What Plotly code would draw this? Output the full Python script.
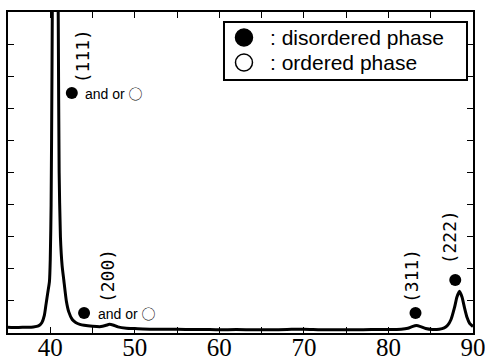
import plotly.graph_objects as go

# XRD pattern (2theta in degrees, intensity in arbitrary units 0-10)
two_theta = [35.0, 36.0, 37.0, 38.0, 38.6, 39.0, 39.3, 39.5, 39.7, 39.9, 40.0, 40.1, 40.2,
             40.3, 40.45, 40.6, 40.75, 40.85, 40.95, 41.05, 41.2, 41.4, 41.6, 41.9, 42.2,
             42.6, 43.0, 43.5, 44.0, 45.0, 46.0, 46.6, 47.0, 47.5, 48.0, 49.0, 50.0, 52.0,
             54.0, 56.0, 58.0, 60.0, 62.0, 64.0, 66.0, 68.0, 70.0, 72.0, 74.0, 76.0, 78.0,
             80.0, 81.5, 82.3, 82.8, 83.3, 83.8, 84.4, 85.2, 86.0, 86.6, 87.0, 87.4, 87.8,
             88.1, 88.4, 88.7, 89.0, 89.3, 89.6, 90.0]
intensity = [0.18, 0.17, 0.18, 0.19, 0.22, 0.32, 0.55, 0.9, 1.25, 1.6, 2.3, 4.0, 8.0,
             13.0, 20.0, 24.0, 20.0, 14.0, 9.5, 5.0, 3.0, 2.1, 1.65, 1.0, 0.65,
             0.42, 0.33, 0.27, 0.24, 0.21, 0.2, 0.24, 0.27, 0.24, 0.19, 0.15, 0.14, 0.12,
             0.12, 0.11, 0.11, 0.1, 0.11, 0.1, 0.1, 0.11, 0.12, 0.1, 0.1, 0.1, 0.11,
             0.11, 0.12, 0.15, 0.2, 0.23, 0.2, 0.14, 0.11, 0.12, 0.16, 0.24, 0.42, 0.78,
             1.12, 1.3, 1.12, 0.78, 0.48, 0.3, 0.2]

# Phase markers (filled dots) and Miller-index labels
dot_x = [42.55, 44.0, 83.2, 87.9]
dot_y = [7.48, 0.62, 0.62, 1.65]
hkl_labels = ["(111)", "(200)", "(311)", "(222)"]
hkl_x = [43.9, 46.85, 82.8, 87.2]
hkl_y = [8.63, 1.78, 1.78, 2.99]
andor_text = "and or <span style='font-family:Noto Sans CJK JP'>○</span>"
andor_x = [43.87, 45.4]
andor_y = [7.48, 0.62]

x_tickvals = [40, 45, 50, 55, 60, 65, 70, 75, 80, 85, 90]
x_ticktext = ["40", "", "50", "", "60", "", "70", "", "80", "", "90"]
y_tickvals = [1, 2, 3, 4, 5, 6, 7, 8, 9]

legend_entries = [": disordered phase", ": ordered phase"]
legend_filled = [True, False]

fig = go.Figure()
fig.add_trace(go.Scatter(x=two_theta, y=intensity, mode="lines",
                         line=dict(color="black", width=3, shape="spline", smoothing=0.6),
                         showlegend=False, hoverinfo="skip"))
fig.add_trace(go.Scatter(x=dot_x, y=dot_y, mode="markers",
                         marker=dict(symbol="circle", size=12, color="black"),
                         showlegend=False, hoverinfo="skip"))

for t, x, y in zip(hkl_labels, hkl_x, hkl_y):
    fig.add_annotation(x=x, y=y, text=t, textangle=-90, showarrow=False,
                       font=dict(family="DejaVu Sans Mono", size=18, color="black"))
for x, y in zip(andor_x, andor_y):
    fig.add_annotation(x=x, y=y, text=andor_text, showarrow=False, xanchor="left",
                       font=dict(family="Liberation Sans", size=14, color="black"))

# Legend box drawn in paper coordinates
fig.add_shape(type="rect", xref="paper", yref="paper", x0=0.4645, x1=0.9871,
              y0=0.7882, y1=0.9688, line=dict(color="black", width=2),
              fillcolor="white", layer="above")
legend_rows_y = [0.9206, 0.8427]
for name, filled, yy in zip(legend_entries, legend_filled, legend_rows_y):
    fig.add_shape(type="circle", xref="paper", yref="paper",
                  xsizemode="pixel", ysizemode="pixel",
                  xanchor=0.5075, yanchor=yy, x0=-8.5, x1=8.5, y0=-8.5, y1=8.5,
                  line=dict(color="black", width=1.5),
                  fillcolor="black" if filled else "white", layer="above")
    fig.add_annotation(xref="paper", yref="paper", x=0.5591, y=yy, text=name,
                       showarrow=False, xanchor="left", yanchor="middle",
                       font=dict(family="Liberation Sans", size=21, color="black"))

axis_common = dict(showline=True, linecolor="black", linewidth=1.5, mirror="ticks",
                   ticks="inside", ticklen=6, tickwidth=1.2, tickcolor="black",
                   showgrid=False, zeroline=False, automargin=False)
fig.update_xaxes(range=[35, 90], tickvals=x_tickvals, ticktext=x_ticktext,
                 tickfont=dict(family="Liberation Serif", size=25, color="black"),
                 ticklabelstandoff=-9, ticklabeloverflow="allow", **axis_common)
fig.update_yaxes(range=[0, 10], tickvals=y_tickvals, showticklabels=False, **axis_common)

fig.update_layout(
    width=485, height=362,
    margin=dict(l=8, r=12, t=12, b=29),
    plot_bgcolor="white", paper_bgcolor="white",
    showlegend=False,
)

fig.write_html("out.html")
